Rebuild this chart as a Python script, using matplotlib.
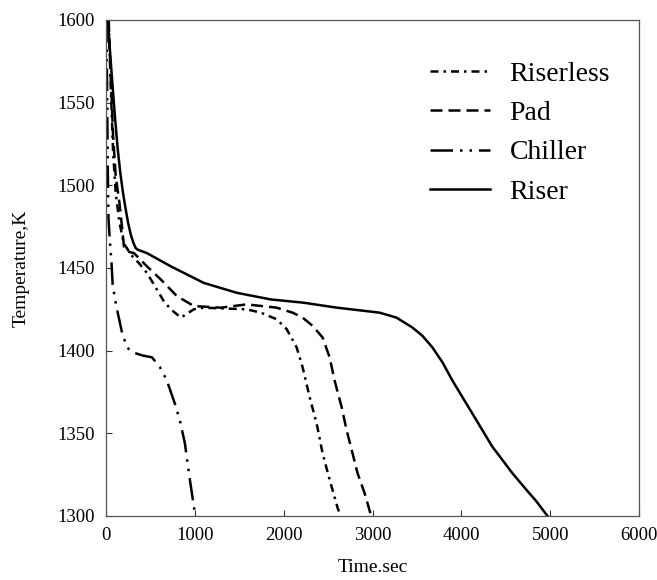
import matplotlib
matplotlib.use("Agg")
import matplotlib.pyplot as plt

# ── Daten ─────────────────────────────────────────────────────────────────────
riserless_t = [30, 50, 80, 110, 150, 200, 281, 370, 461, 573, 650, 730, 843, 989, 1100,
               1584, 1742, 1921, 2034, 2146, 2213, 2292, 2371, 2438, 2517, 2607, 2640]
riserless_T = [1600, 1565, 1520, 1495, 1478, 1465, 1458, 1453, 1447, 1437, 1430, 1425, 1420, 1425, 1426,
               1425, 1423, 1419, 1413, 1402, 1390, 1372, 1356, 1338, 1322, 1305, 1300]

pad_t = [30, 50, 80, 110, 150, 180, 202, 240, 315, 461, 618, 798, 989, 1292,
         1584, 1921, 2100, 2213, 2326, 2438, 2517, 2573, 2652, 2708, 2775, 2831, 2910, 2985]
pad_T = [1600, 1570, 1530, 1505, 1490, 1475, 1463, 1460, 1459, 1451, 1443, 1433, 1427, 1426,
         1428, 1426, 1423, 1420, 1415, 1408, 1396, 1382, 1366, 1352, 1338, 1326, 1314, 1300]

chiller_t = [5, 12, 20, 28, 45, 60, 75, 112, 180, 236, 300, 416, 517, 607, 685,
             775, 831, 888, 944, 1005]
chiller_T = [1600, 1560, 1510, 1480, 1465, 1455, 1440, 1428, 1411, 1402, 1399, 1397, 1396, 1390, 1382,
             1368, 1358, 1344, 1322, 1300]

riser_t = [20, 60, 100, 130, 160, 190, 220, 250, 280, 310, 335, 360, 461, 730, 1100,
           1472, 1854, 2225, 2600, 3079, 3270, 3449, 3562, 3674, 3787, 3899, 4011,
           4124, 4236, 4348, 4461, 4573, 4730, 4843, 4970]
riser_T = [1600, 1570, 1542, 1523, 1508, 1496, 1486, 1477, 1470, 1465, 1462, 1461, 1459, 1451, 1441,
           1435, 1431, 1429, 1426, 1423, 1420, 1414, 1409, 1402, 1393, 1382, 1372,
           1362, 1352, 1342, 1334, 1326, 1316, 1309, 1300]

x_ticks = [0, 1000, 2000, 3000, 4000, 5000, 6000]
y_ticks = [1300, 1350, 1400, 1450, 1500, 1550, 1600]

# ── Plot ──────────────────────────────────────────────────────────────────────
plt.rcParams["font.family"] = ["Liberation Serif", "DejaVu Serif"]

fig = plt.figure(figsize=(6.57, 5.8), dpi=100)
ax = fig.add_axes([106 / 657, 64 / 580, 533 / 657, 496 / 580])

lw = 1.8
ax.plot(riserless_t, riserless_T, color="black", lw=lw, dashes=(3.2, 2, 1, 2), label="Riserless")
ax.plot(pad_t, pad_T, color="black", lw=lw, dashes=(4.8, 2.4), label="Pad")
ax.plot(chiller_t, chiller_T, color="black", lw=lw, dashes=(9, 2.8, 1, 2.8, 1, 2.8), label="Chiller")
ax.plot(riser_t, riser_T, color="black", lw=lw, label="Riser")

ax.set_xlim(0, 6000)
ax.set_ylim(1300, 1600)
ax.set_xticks(x_ticks)
ax.set_yticks(y_ticks)
ax.tick_params(direction="in", length=4, width=0.8, labelsize=13.5, pad=8, colors="#333333",
               labelcolor="black")

for side in ["left", "bottom", "top", "right"]:
    ax.spines[side].set_linewidth(0.9)
    ax.spines[side].set_color("#555555")

ax.set_xlabel("Time.sec", fontsize=14, labelpad=11)
ax.set_ylabel("Temperature,K", fontsize=14, labelpad=20)

ax.legend(loc="upper left", bbox_to_anchor=(0.561, 0.967), frameon=False, fontsize=20,
          handlelength=2.16, handletextpad=0.7, labelspacing=0.5)

plt.savefig("out.png", dpi=100)
